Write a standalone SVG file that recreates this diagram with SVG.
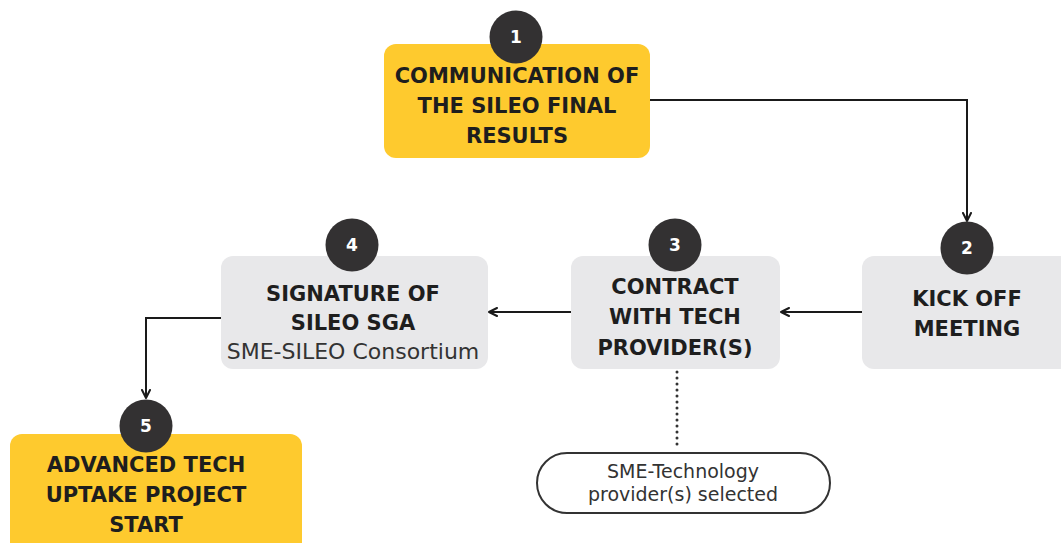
<svg xmlns="http://www.w3.org/2000/svg" width="1061" height="543" viewBox="0 0 1061 543">
<defs>
<marker id="arr" viewBox="0 0 10 10" refX="9" refY="5" markerWidth="10" markerHeight="10" markerUnits="userSpaceOnUse" orient="auto">
<path d="M1,1 L9,5 L1,9" fill="none" stroke="#1a1a1a" stroke-width="2" stroke-linecap="round" stroke-linejoin="round"/>
</marker>
</defs>
<style>
.yel{fill:#FECA2E}
.gry{fill:#E8E8EA}
.num{fill:#333132}
.numt{fill:#ffffff;font-family:"DejaVu Sans",sans-serif;font-weight:bold;font-size:17px;text-anchor:middle}
.t{fill:#1e1e1e;font-family:"DejaVu Sans",sans-serif;font-weight:bold;font-size:21px;text-anchor:middle}
.s{fill:#333333;font-family:"DejaVu Sans",sans-serif;font-size:22px;text-anchor:middle}
.n{fill:#333333;font-family:"DejaVu Sans",sans-serif;font-size:19px;text-anchor:middle}
.ln{fill:none;stroke:#1a1a1a;stroke-width:2}
</style>
<rect width="1061" height="543" fill="#ffffff"/>
<g id="connectors">
<path class="ln" d="M650,100 H967 V221" marker-end="url(#arr)"/>
<path class="ln" d="M862,312 H781" marker-end="url(#arr)"/>
<path class="ln" d="M571,312 H489" marker-end="url(#arr)"/>
<path class="ln" d="M221,318 H146 V398" marker-end="url(#arr)"/>
<path d="M677,372 V448" fill="none" stroke="#333" stroke-width="3" stroke-dasharray="0 6" stroke-linecap="round"/>
</g>
<g id="node1">
<rect class="yel" x="384" y="44" width="266" height="114" rx="12"/>
<circle class="num" cx="516" cy="37" r="26.5"/>
<text class="numt" x="516" y="43">1</text>
<text class="t" x="517" y="83">COMMUNICATION OF</text>
<text class="t" x="517" y="113">THE SILEO FINAL</text>
<text class="t" x="517" y="143">RESULTS</text>
</g>
<g id="node2">
<rect class="gry" x="862" y="256" width="215" height="113" rx="12"/>
<circle class="num" cx="967" cy="248" r="26.5"/>
<text class="numt" x="967" y="254">2</text>
<text class="t" x="967" y="306">KICK OFF</text>
<text class="t" x="967" y="336">MEETING</text>
</g>
<g id="node3">
<rect class="gry" x="571" y="256" width="209" height="113" rx="12"/>
<circle class="num" cx="675" cy="245" r="26.5"/>
<text class="numt" x="675" y="251">3</text>
<text class="t" x="675" y="294">CONTRACT</text>
<text class="t" x="675" y="324">WITH TECH</text>
<text class="t" x="675" y="355">PROVIDER(S)</text>
</g>
<g id="node4">
<rect class="gry" x="221" y="256" width="267" height="113" rx="12"/>
<circle class="num" cx="352" cy="245" r="26.5"/>
<text class="numt" x="352" y="251">4</text>
<text class="t" x="353" y="301">SIGNATURE OF</text>
<text class="t" x="353" y="330">SILEO SGA</text>
<text class="s" x="353" y="359">SME-SILEO Consortium</text>
</g>
<g id="node5">
<rect class="yel" x="10" y="434" width="292" height="122" rx="12"/>
<circle class="num" cx="146" cy="426" r="26.5"/>
<text class="numt" x="146" y="432">5</text>
<text class="t" x="146" y="472">ADVANCED TECH</text>
<text class="t" x="146" y="502">UPTAKE PROJECT</text>
<text class="t" x="146" y="532">START</text>
</g>
<g id="note">
<rect x="537" y="453" width="293" height="60" rx="30" fill="#ffffff" stroke="#333333" stroke-width="2"/>
<text class="n" x="683" y="478">SME-Technology</text>
<text class="n" x="683" y="501">provider(s) selected</text>
</g>
</svg>
